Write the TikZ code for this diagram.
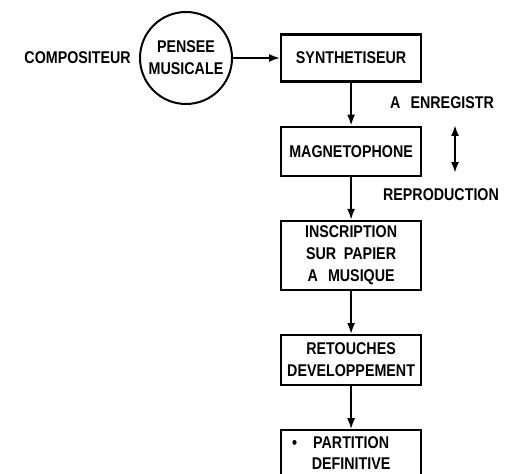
\documentclass[tikz,border=0pt]{standalone}
\usepackage{fontspec}
\newfontfamily\diagfont[FakeStretch=0.84]{Liberation Sans}
\newcommand\lblfont{\diagfont\bfseries\fontsize{17}{22}\selectfont}
\usetikzlibrary{positioning, arrows.meta}

\begin{document}
\begin{tikzpicture}[
  x=1pt, y=1pt,
  node distance=43pt,
  thought/.style={circle, draw, line width=2pt, minimum size=92pt,
                  inner sep=0pt, align=center, font=\lblfont},
  box/.style={rectangle, draw, line width=2.2pt, minimum width=140pt,
              inner sep=2pt, align=center, font=\lblfont},
  lbl/.style={inner sep=0pt, font=\lblfont},
  arr/.style={line width=1.8pt, -{Latex[length=11pt, width=8pt]}},
  dbl/.style={line width=2pt, {Latex[length=11pt, width=8pt]}-{Latex[length=11pt, width=8pt]}}
]
  \useasboundingbox (0,0) rectangle (510,-473);

  \node[thought] (pensee) at (186,-58) {PENSEE\\MUSICALE};
  \node[lbl, left=8pt of pensee] (compositeur) {COMPOSITEUR};

  \node[box, minimum height=47pt, right=47pt of pensee] (synth) {SYNTHETISEUR};
  \node[box, minimum height=49pt, below=of synth] (magneto) {MAGNETOPHONE};
  \node[box, minimum height=69pt, below=of magneto] (inscription)
       {INSCRIPTION\\SUR\hspace{0.45em}PAPIER\\A\hspace{0.6em}MUSIQUE};
  \node[box, minimum height=50pt, below=of inscription] (retouches)
       {RETOUCHES\\DEVELOPPEMENT};
  \node[box, minimum height=46pt, below=of retouches] (partition)
       {\llap{\textbullet\hspace{16pt}}PARTITION\\[-1pt]DEFINITIVE};

  % recording / playback
  \node[lbl] (enreg) at (442,-103) {A\hspace{0.6em}ENREGISTR};
  \coordinate (dtop) at (455,-125);
  \coordinate (dbot) at (455,-173);
  \node[lbl] (repro) at (441,-195) {REPRODUCTION};

  % edges
  \draw[arr] (pensee) -- (synth);
  \draw[arr] (synth) -- (magneto);
  \draw[arr] (magneto) -- (inscription);
  \draw[arr] (inscription) -- (retouches);
  \draw[arr] (retouches) -- (partition);
  \draw[dbl] (dtop) -- (dbot);
\end{tikzpicture}
\end{document}
